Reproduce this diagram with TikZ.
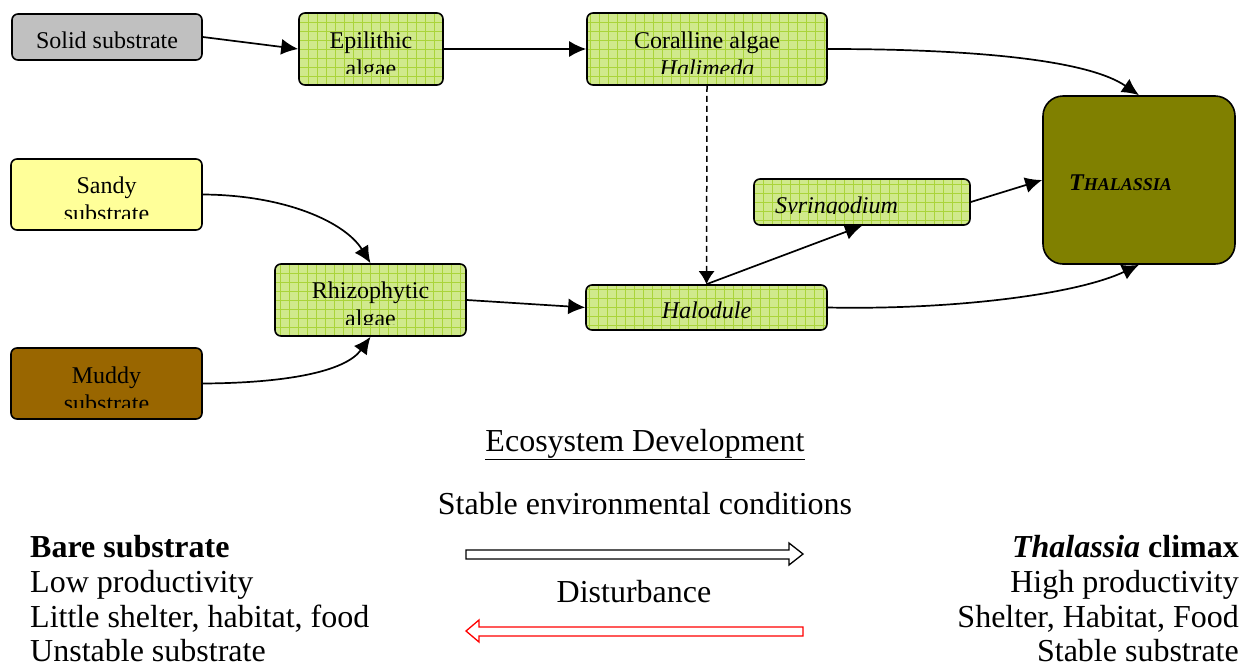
\documentclass[tikz,border=0pt]{standalone}
\usepackage{fontspec}
\setmainfont{Liberation Serif}
\usetikzlibrary{arrows.meta}
\definecolor{boxgray}{HTML}{C0C0C0}
\definecolor{sandy}{HTML}{FFFF99}
\definecolor{muddy}{HTML}{996600}
\definecolor{olivebox}{HTML}{808000}
\definecolor{algafill}{HTML}{D0E98C}
\definecolor{algagrid}{HTML}{AAD43A}
\tikzset{
  basebox/.style={draw=black, line width=1.6pt, rounded corners=6pt, inner sep=0pt},
  algabox/.style={basebox, fill=algafill,
    path picture={\draw[algagrid, line width=0.45pt, step=9pt]
      (path picture bounding box.south west) grid (path picture bounding box.north east);}},
  boxtxt/.style={anchor=base, font=\fontsize{24}{28}\selectfont, inner sep=0pt},
  bigtxt/.style={font=\fontsize{32}{36}\selectfont, inner sep=0pt},
  conn/.style={line width=1.7pt, -{Latex[length=17pt,width=16pt]}},
}
\newcommand\cliptext[2]{%
  \begin{scope}
    \clip (#1.north west) rectangle ([yshift=12pt]#1.south east);
    #2
  \end{scope}}
\begin{document}
\begin{tikzpicture}[x=1pt,y=-1pt]
\useasboundingbox (0,0) rectangle (1242,667);

% boxes
\node[basebox, fill=boxgray, minimum width=190pt, minimum height=46pt] (solid) at (107,37) {};
\node[algabox, minimum width=144pt, minimum height=72pt] (epi) at (371,49) {};
\node[algabox, minimum width=240pt, minimum height=72pt] (coral) at (707,49) {};
\node[basebox, fill=olivebox, rounded corners=20pt, minimum width=192pt, minimum height=168pt] (thal) at (1139,180) {};
\node[basebox, fill=sandy, minimum width=191pt, minimum height=71pt] (sandy) at (106.5,194.5) {};
\node[basebox, fill=muddy, minimum width=191pt, minimum height=71pt] (muddy) at (106.5,383.5) {};
\node[algabox, minimum width=191pt, minimum height=72pt] (rhiz) at (370.5,300) {};
\node[algabox, minimum width=216pt, minimum height=46pt] (syr) at (862,202) {};
\node[algabox, minimum width=241pt, minimum height=45pt] (halo) at (706.5,307.5) {};

% box texts
\cliptext{solid}{\node[boxtxt] (tsolid) at (107,48) {Solid substrate};}
\cliptext{epi}{\node[boxtxt] (tepi1) at (371,48) {Epilithic};
  \node[boxtxt] (tepi2) at (371,76) {algae};}
\cliptext{coral}{\node[boxtxt] (tcoral1) at (707,48) {Coralline algae};
  \node[boxtxt] (tcoral2) at (707,76) {\itshape Halimeda};}
\cliptext{sandy}{\node[boxtxt] (tsandy1) at (106.5,193) {Sandy};
  \node[boxtxt] (tsandy2) at (106.5,221) {substrate};}
\cliptext{muddy}{\node[boxtxt] (tmuddy1) at (106.5,383) {Muddy};
  \node[boxtxt] (tmuddy2) at (106.5,411) {substrate};}
\cliptext{rhiz}{\node[boxtxt] (trhiz1) at (370.5,298) {Rhizophytic};
  \node[boxtxt] (trhiz2) at (370.5,326) {algae};}
\cliptext{syr}{\node[boxtxt, anchor=base west] (tsyr) at (775,213) {\itshape Syringodium};}
\cliptext{halo}{\node[boxtxt] (thalo) at (706.5,318) {\itshape Halodule};}
\node[anchor=base west, inner sep=0pt] (tthal) at (1069,190)
  {\bfseries\itshape\fontsize{24}{28}\selectfont T\fontsize{18}{20}\selectfont HALASSIA};

% connectors
\draw[conn] (solid.east) -- (epi.west);
\draw[conn] (epi.east) -- (coral.west);
\draw[conn] (coral.east) .. controls (960,49) and (1085,58) .. (thal.north);
\draw[conn, line width=1.5pt, dash pattern=on 6pt off 4pt, -{Latex[length=13pt,width=16pt]}] (coral.south) -- (halo.north);
\draw[conn] (halo.north) -- (syr.south);
\draw[conn] (syr.east) -- (thal.west);
\draw[conn] (halo.east) .. controls (950,310) and (1075,295) .. (thal.south);
\draw[conn] (sandy.east) .. controls (285,195) and (345,222) .. (rhiz.north);
\draw[conn] (muddy.east) .. controls (285,383) and (345,372) .. (rhiz.south);
\draw[conn] (rhiz.east) -- (halo.west);

% lower text
\node[bigtxt, anchor=base] (ecodev) at (645,451) {\underline{Ecosystem Development}};
\node[bigtxt, anchor=base] (stable) at (645,514) {Stable environmental conditions};
\node[bigtxt, anchor=base] (dist) at (634,602) {Disturbance};

\node[bigtxt, anchor=base west] (l1) at (30,557) {\bfseries Bare substrate};
\node[bigtxt, anchor=base west] (l2) at (30,592) {Low productivity};
\node[bigtxt, anchor=base west] (l3) at (30,627) {Little shelter, habitat, food};
\node[bigtxt, anchor=base west] (l4) at (30,661) {Unstable substrate};

\node[bigtxt, anchor=base east] (r1) at (1239,557) {\bfseries\itshape Thalassia\upshape\ climax};
\node[bigtxt, anchor=base east] (r2) at (1239,592) {High productivity};
\node[bigtxt, anchor=base east] (r3) at (1239,627) {Shelter, Habitat, Food};
\node[bigtxt, anchor=base east] (r4) at (1239,661) {Stable substrate};

% block arrows
\draw[black, line width=1.3pt, fill=white, line join=miter]
  (466,550) -- (789,550) -- (789,543) -- (803,554) -- (789,565) -- (789,559) -- (466,559) -- cycle;
\draw[red, line width=1.3pt, fill=white, line join=miter]
  (803,627) -- (479,627) -- (479,620) -- (466,631) -- (479,642) -- (479,636) -- (803,636) -- cycle;
\end{tikzpicture}
\end{document}
